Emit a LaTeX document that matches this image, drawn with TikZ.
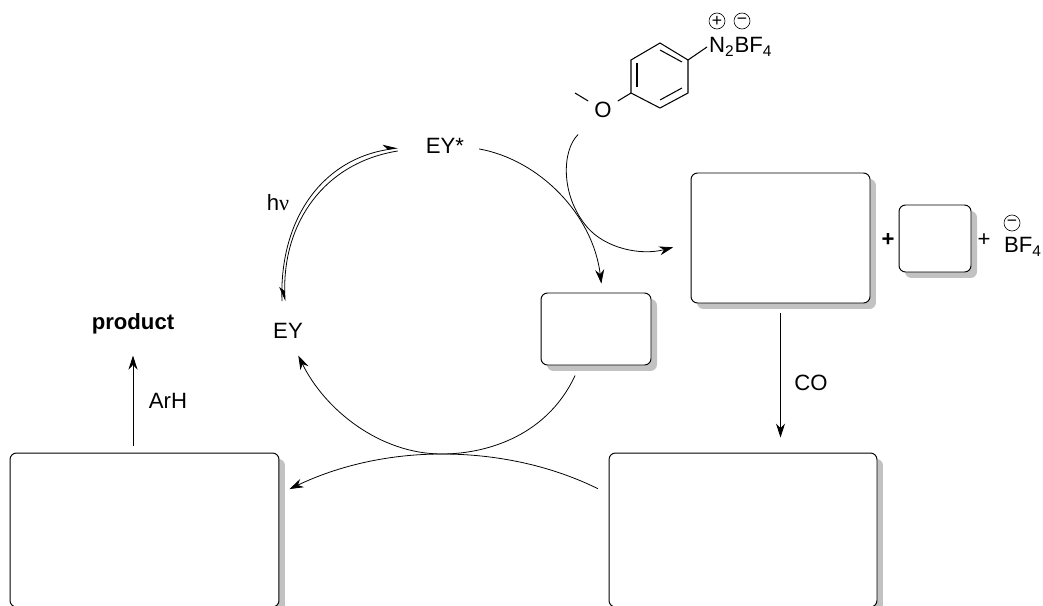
\documentclass[tikz,border=0pt]{standalone}
\usepackage{fontspec}
\setmainfont{Liberation Sans}
\newfontfamily\nufont{Liberation Serif}
\usetikzlibrary{arrows.meta,shadows}
\tikzset{
  intermediate/.style={draw,line width=0.55pt,rounded corners=0.13cm,inner sep=0pt,fill=white,
    drop shadow={shadow xshift=0.12cm,shadow yshift=-0.12cm,fill=black!24,opacity=1}},
  rxn/.style={line width=0.45pt,-{Stealth[length=0.28cm,width=0.18cm]}},
  hvline/.style={line width=0.45pt},
  bond/.style={line width=0.6pt},
  charge/.style={draw,circle,line width=0.35pt,inner sep=0pt,minimum size=0.32cm,font=\fontsize{10}{10}\selectfont},
  every node/.append style={font=\fontsize{12.6}{14}\selectfont}
}
\begin{document}
\begin{tikzpicture}[x=0.02cm,y=-0.02cm]
      \clip (0,0) rectangle (1043,605);

      % boxes
      \node[intermediate,minimum width=3.58cm,minimum height=2.6cm] (A) at (780.5,238){};
      \node[intermediate,minimum width=1.44cm,minimum height=1.34cm] (B) at (935,238.5){};
      \node[intermediate,minimum width=2.2cm,minimum height=1.44cm] (C) at (596,329){};
      \node[intermediate,minimum width=5.38cm,minimum height=3.08cm] (D) at (144.5,530){};
      \node[intermediate,minimum width=5.36cm,minimum height=3.08cm] (E) at (743,530){};

      % labels
      \node (EYstar) at (445,146){EY*};
      \node (EY) at (288,331){EY};
      \node (hnu) at (278,203){h{\nufont ν}};
      \node (product) at (133,324){\textbf{product}};
      \node (ArH) at (168,401){ArH};
      \node (CO) at (811,383){CO};
      \node (plusA) at (888,240){\textbf{+}};
      \node (plusB) at (984,240){+};
      \node (BF) at (1023,247){BF\textsubscript{4}};
      \node[charge] (BFminus) at (1012,223){\textminus};

      % aryl diazonium
      \node (O) at (603,110){O};
      \node[anchor=west,inner sep=1pt] (diazo) at (707,47){N\textsubscript{2}BF\textsubscript{4}};
      \node[charge] (Nplus) at (717,21){+};
      \node[charge] (Bminus) at (742,21){\textminus};
      \coordinate (r1) at (660,43);
      \coordinate (r2) at (688,60);
      \coordinate (r3) at (688,93);
      \coordinate (r4) at (660,108);
      \coordinate (r5) at (631,93);
      \coordinate (r6) at (631,60);
      \coordinate (Me) at (575,93);
      \draw[bond] (r1) -- (r2) -- (r3) -- (r4) -- (r5) -- (r6) -- cycle;
      \draw[bond] (637,63) -- (637,87);
      \draw[bond] (660,50) -- (682,62);
      \draw[bond] (660,100) -- (682,88);
      \draw[bond] (r5) -- (O);
      \draw[bond] (Me) -- (O);
      \draw[bond] (r2) -- (diazo.west);

      % straight arrows
      \draw[rxn,shorten <=0.14cm,shorten >=0.3cm] (D.north -| product) -- (product.south);
      \draw[rxn,shorten <=0.2cm,shorten >=0.3cm] (A.south) -- (A.south |- E.north);

      % hv
      \draw[hvline,-{Stealth[harpoon,length=0.27cm,width=0.22cm]}] ([xshift=-0.12cm,yshift=0.32cm]EY.north) .. controls (279,222) and (320,160) .. ([xshift=-0.44cm,yshift=-0.04cm]EYstar.west);
      \draw[hvline,{Stealth[harpoon,swap,length=0.27cm,width=0.22cm]}-] ([xshift=-0.06cm,yshift=0.32cm]EY.north) .. controls (283,224) and (323,163) .. ([xshift=-0.44cm,yshift=-0.1cm]EYstar.west);

      % cycle
      \draw[rxn,shorten <=0.18cm,shorten >=0.18cm] (EYstar.-3) .. controls (540,160) and (593,215) .. (C.80);
      \draw[rxn,shorten <=0.22cm,shorten >=0.24cm] (C.246) .. controls (545,440) and (480,454) .. (442,454) .. controls (380,454) and (325,410) .. (EY.-70);

      % side arrows
      \draw[rxn,shorten <=0.3cm,shorten >=0.36cm] (O.225) .. controls (562,150) and (560,195) .. (587,227) .. controls (605,248) and (640,256) .. (A.183);
      \draw[rxn,shorten <=0.24cm,shorten >=0.22cm] (E.165) .. controls (550,465) and (495,454) .. (442,454) .. controls (390,454) and (340,465) .. (D.15);
    \end{tikzpicture}
\end{document}
